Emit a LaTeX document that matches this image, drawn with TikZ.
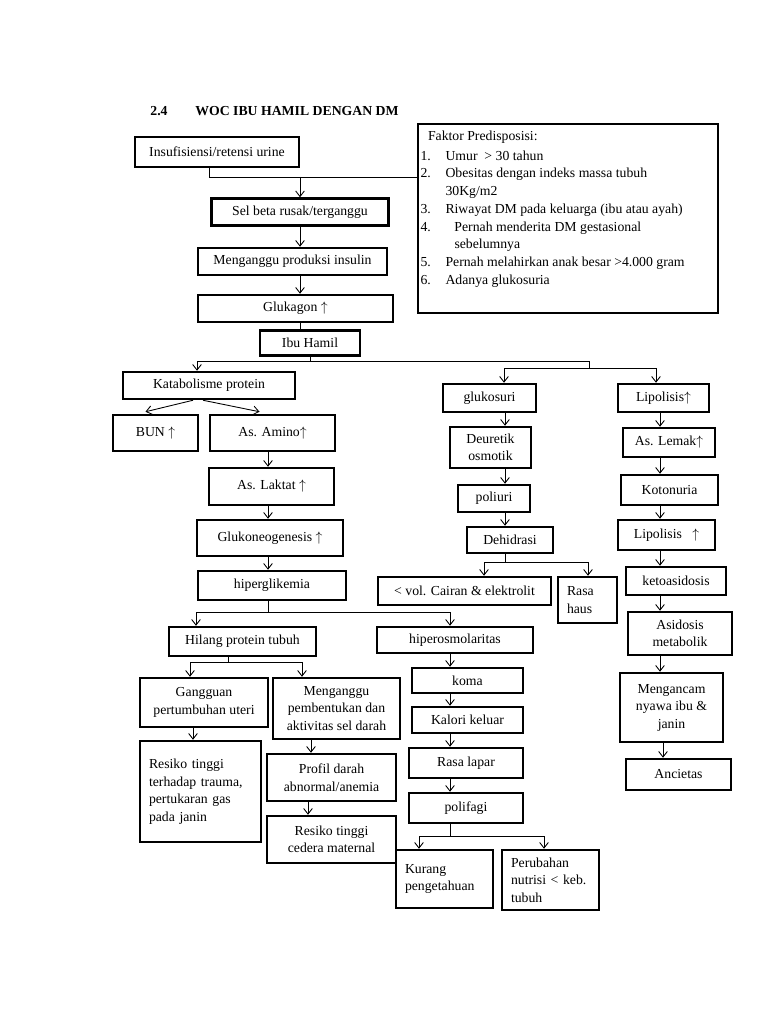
\documentclass[tikz,border=0pt]{standalone}
\usepackage{fontspec}
\setmainfont{Liberation Serif}
\usetikzlibrary{arrows.meta, calc}
\tikzset{
    %Define style for boxes
    box/.style={
           rectangle,
           draw=black, line width=2pt,
           inner sep=1pt,
           align=center,
           font=\fontsize{11}{14}\selectfont},
    sz/.style 2 args={
           minimum width=#1*0.8pt,
           minimum height=#2*0.8pt},
    lbox/.style={
           box,
           align=left,
           inner xsep=7.2pt},
    % Define connector styles
    ln/.style={line width=0.7pt},
    arr/.style={
           ln,
           -{Straight Barb[length=4.5pt, width=7pt]}}
}

\begin{document}
\begin{tikzpicture}[x=0.8pt, y=-0.8pt]
  \useasboundingbox (0,0) rectangle (768,1024);

  % title
  \node[anchor=west, font=\fontsize{11}{14}\selectfont\bfseries] (title) at (146,111)
       {\makebox[36pt][l]{2.4}WOC IBU HAMIL DENGAN DM};

  % top column
  \node[box, sz={164}{30}] (insuf) at (217,152) {Insufisiensi/retensi urine};
  \node[box, inner sep=0pt, sz={300}{189}] (faktor) at (568,218.5) {%
    \parbox[c][147pt][t]{236pt}{\fontsize{11}{14.2}\selectfont
      \vspace*{3.5pt}
      \hspace*{6pt}Faktor Predisposisi:\\[1.4pt]
      \makebox[20pt][l]{1.}Umur~~> 30 tahun\\
      \makebox[20pt][l]{2.}Obesitas dengan indeks massa tubuh\\
      \hspace*{20pt}30Kg/m2\\
      \makebox[20pt][l]{3.}Riwayat DM pada keluarga (ibu atau ayah)\\
      \makebox[27.2pt][l]{4.}Pernah menderita DM gestasional\\
      \hspace*{27.2pt}sebelumnya\\
      \makebox[20pt][l]{5.}Pernah melahirkan anak besar >4.000 gram\\
      \makebox[20pt][l]{6.}Adanya glukosuria}};
  \node[box, sz={177}{27}] (selbeta) at (300,212) {Sel beta rusak/terganggu};
  \node[box, sz={189}{27}] (insulin) at (292.5,261.5) {Menganggu produksi insulin};
  \node[box, sz={195}{27}] (glukagon) at (295.5,308.5) {Glukagon $\uparrow$};
  \node[box, sz={100}{25}] (ibuhamil) at (310,343) {Ibu Hamil};

  % left column
  \node[box, sz={172}{27}] (katabolisme) at (209,385.5) {Katabolisme protein};
  \node[box, sz={85}{36}] (bun) at (155.5,433) {BUN $\uparrow$};
  \node[box, sz={125}{36}] (amino) at (272.5,433) {As. Amino$\uparrow$};
  \node[box, sz={125}{37}] (laktat) at (271.5,486.5) {As. Laktat $\uparrow$};
  \node[box, sz={146}{36}] (glukoneo) at (270,538) {Glukoneogenesis $\uparrow$};
  \node[box, sz={148}{29}] (hiperglik) at (272,585.5) {hiperglikemia};
  \node[box, sz={147}{29}] (hilang) at (242.5,641.5) {Hilang protein tubuh};
  \node[box, sz={128}{49}] (gangguan) at (204,702.5) {Gangguan\\pertumbuhan uteri};
  \node[box, sz={127}{61}] (mengganggu) at (336.5,708.5) {Menganggu\\pembentukan dan\\aktivitas sel darah};
  \node[lbox, text width=82.4pt, minimum height=101*0.8pt] (trauma) at (200.5,791.5)
       {Resiko tinggi\\terhadap trauma,\\pertukaran gas\\pada janin};
  \node[box, sz={129}{47}] (profil) at (331.5,777.5) {Profil darah\\abnormal/anemia};
  \node[box, sz={129}{47}] (cedera) at (331.5,839.5) {Resiko tinggi\\cedera maternal};

  % middle column
  \node[box, sz={93}{28}] (glukosuri) at (489.5,398) {glukosuri};
  \node[box, sz={81}{41}] (deuretik) at (490.5,447.5) {Deuretik\\osmotik};
  \node[box, sz={72}{27}] (poliuri) at (494,498.5) {poliuri};
  \node[box, sz={86}{26}] (dehidrasi) at (510,540) {Dehidrasi};
  \node[box, sz={173}{28}] (cairan) at (464.5,591) {< vol. Cairan \& elektrolit};
  \node[lbox, text width=32.8pt, minimum height=46*0.8pt] (haus) at (587.5,600) {Rasa\\haus};
  \node[box, sz={156}{26}] (hiperosm) at (455,640) {hiperosmolaritas};
  \node[box, sz={111}{25}] (koma) at (467.5,680.5) {koma};
  \node[box, sz={111}{26}] (kalori) at (467.5,720) {Kalori keluar};
  \node[box, sz={114}{30}] (lapar) at (466,763) {Rasa lapar};
  \node[box, sz={114}{30}] (polifagi) at (466,808) {polifagi};
  \node[lbox, text width=63.2pt, minimum height=58*0.8pt] (kurang) at (444.5,879) {Kurang\\pengetahuan};
  \node[lbox, text width=63.2pt, minimum height=60*0.8pt] (nutrisi) at (550.5,880) {Perubahan\\nutrisi < keb.\\tubuh};

  % right column
  \node[box, sz={91}{28}] (lipo) at (663.5,398) {Lipolisis$\uparrow$};
  \node[box, sz={92}{29}] (lemak) at (669,442.5) {As. Lemak$\uparrow$};
  \node[box, sz={97}{30}] (kotonuria) at (669.5,490) {Kotonuria};
  \node[box, sz={97}{30}] (lipob) at (666.5,535) {Lipolisis~~~$\uparrow$};
  \node[box, sz={100}{28}] (keto) at (676,581) {ketoasidosis};
  \node[box, sz={104}{43}] (asidosis) at (680,633.5) {Asidosis\\metabolik};
  \node[box, sz={103}{69}] (ancam) at (671.5,707.5) {Mengancam\\nyawa ibu \&\\janin};
  \node[box, sz={105}{31}] (ancietas) at (678.5,774.5) {Ancietas};

  % columns and junctions
  \coordinate (c0) at (300,0);
  \coordinate (c1) at (268,0);
  \coordinate (c2) at (505,0);
  \coordinate (c3) at (660,0);
  \coordinate (c4) at (450,0);
  \coordinate (j0) at (209,177);
  \coordinate (j1) at (197,361);
  \coordinate (j2) at (589,361);
  \coordinate (j3) at (504,368);
  \coordinate (j4) at (656,368);
  \coordinate (j5) at (196,612);
  \coordinate (j6) at (228,662);
  \coordinate (j7) at (190,662);
  \coordinate (j8) at (302,662);
  \coordinate (j9) at (484,562);
  \coordinate (j10) at (588,562);
  \coordinate (j11) at (419,836);
  \coordinate (j12) at (544,836);

  % top column
  \draw[ln] (insuf.south -| j0) -- (j0) -- (j0 -| faktor.west);
  \draw[arr] (j0 -| c0) -- (selbeta.north -| c0);
  \draw[arr] (selbeta.south -| c0) -- (insulin.north -| c0);
  \draw[arr] (insulin.south -| c0) -- (glukagon.north -| c0);
  \draw[ln] (glukagon.south -| c0) -- (ibuhamil.north -| c0);
  \draw[ln] (ibuhamil.south) -- (ibuhamil.south |- j1);
  \draw[ln] (j1) -- (j2) -- (j2 |- j3);
  \draw[ln] (j3) -- (j4);
  \draw[arr] (j1) -- (katabolisme.north -| j1);
  \draw[arr] (j3) -- (glukosuri.north -| j3);
  \draw[arr] (j4) -- (lipo.north -| j4);

  % left column
  \draw[arr] ($(katabolisme.south)+(-16,0)$) -- ($(bun.north)+(-10,-2)$);
  \draw[arr] ($(katabolisme.south)+(-6,0)$) -- ($(amino.north)+(-13,-2)$);
  \draw[arr] (amino.south -| c1) -- (laktat.north -| c1);
  \draw[arr] (laktat.south -| c1) -- (glukoneo.north -| c1);
  \draw[arr] (glukoneo.south -| c1) -- (hiperglik.north -| c1);
  \draw[ln] (hiperglik.south -| c1) -- (c1 |- j5);
  \draw[ln] (j5) -- (j5 -| c4);
  \draw[arr] (j5) -- (hilang.north -| j5);
  \draw[arr] (j5 -| c4) -- (hiperosm.north -| c4);
  \draw[ln] (hilang.south -| j6) -- (j6);
  \draw[ln] (j7) -- (j8);
  \draw[arr] (j7) -- (gangguan.north -| j7);
  \draw[arr] (j8) -- (mengganggu.north -| j8);
  \draw[arr] ($(gangguan.south)+(-11,0)$) -- ($(trauma.north)+(-7.5,0)$);
  \draw[arr] ($(mengganggu.south)+(-25.5,0)$) -- ($(profil.north)+(-20.5,0)$);
  \draw[arr] ($(profil.south)+(-23.5,0)$) -- ($(cedera.north)+(-23.5,0)$);

  % middle column
  \draw[arr] (glukosuri.south -| c2) -- (deuretik.north -| c2);
  \draw[arr] (deuretik.south -| c2) -- (poliuri.north -| c2);
  \draw[arr] (poliuri.south -| c2) -- (dehidrasi.north -| c2);
  \draw[ln] (dehidrasi.south -| c2) -- (c2 |- j9);
  \draw[ln] (j9) -- (j10);
  \draw[arr] (j9) -- (cairan.north -| j9);
  \draw[arr] (j10) -- (haus.north -| j10);
  \draw[arr] (hiperosm.south -| c4) -- (koma.north -| c4);
  \draw[arr] (koma.south -| c4) -- (kalori.north -| c4);
  \draw[arr] (kalori.south -| c4) -- (lapar.north -| c4);
  \draw[arr] (lapar.south -| c4) -- (polifagi.north -| c4);
  \draw[ln] (polifagi.south -| c4) -- (c4 |- j11);
  \draw[ln] (j11) -- (j12);
  \draw[arr] (j11) -- (kurang.north -| j11);
  \draw[arr] (j12) -- (nutrisi.north -| j12);

  % right column
  \draw[arr] (lipo.south -| c3) -- (lemak.north -| c3);
  \draw[arr] (lemak.south -| c3) -- (kotonuria.north -| c3);
  \draw[arr] (kotonuria.south -| c3) -- (lipob.north -| c3);
  \draw[arr] (lipob.south -| c3) -- (keto.north -| c3);
  \draw[arr] (keto.south -| c3) -- (asidosis.north -| c3);
  \draw[arr] (asidosis.south -| c3) -- (ancam.north -| c3);
  \draw[arr] ($(ancam.south)+(-8.5,0)$) -- ($(ancietas.north)+(-15.5,0)$);
\end{tikzpicture}
\end{document}
